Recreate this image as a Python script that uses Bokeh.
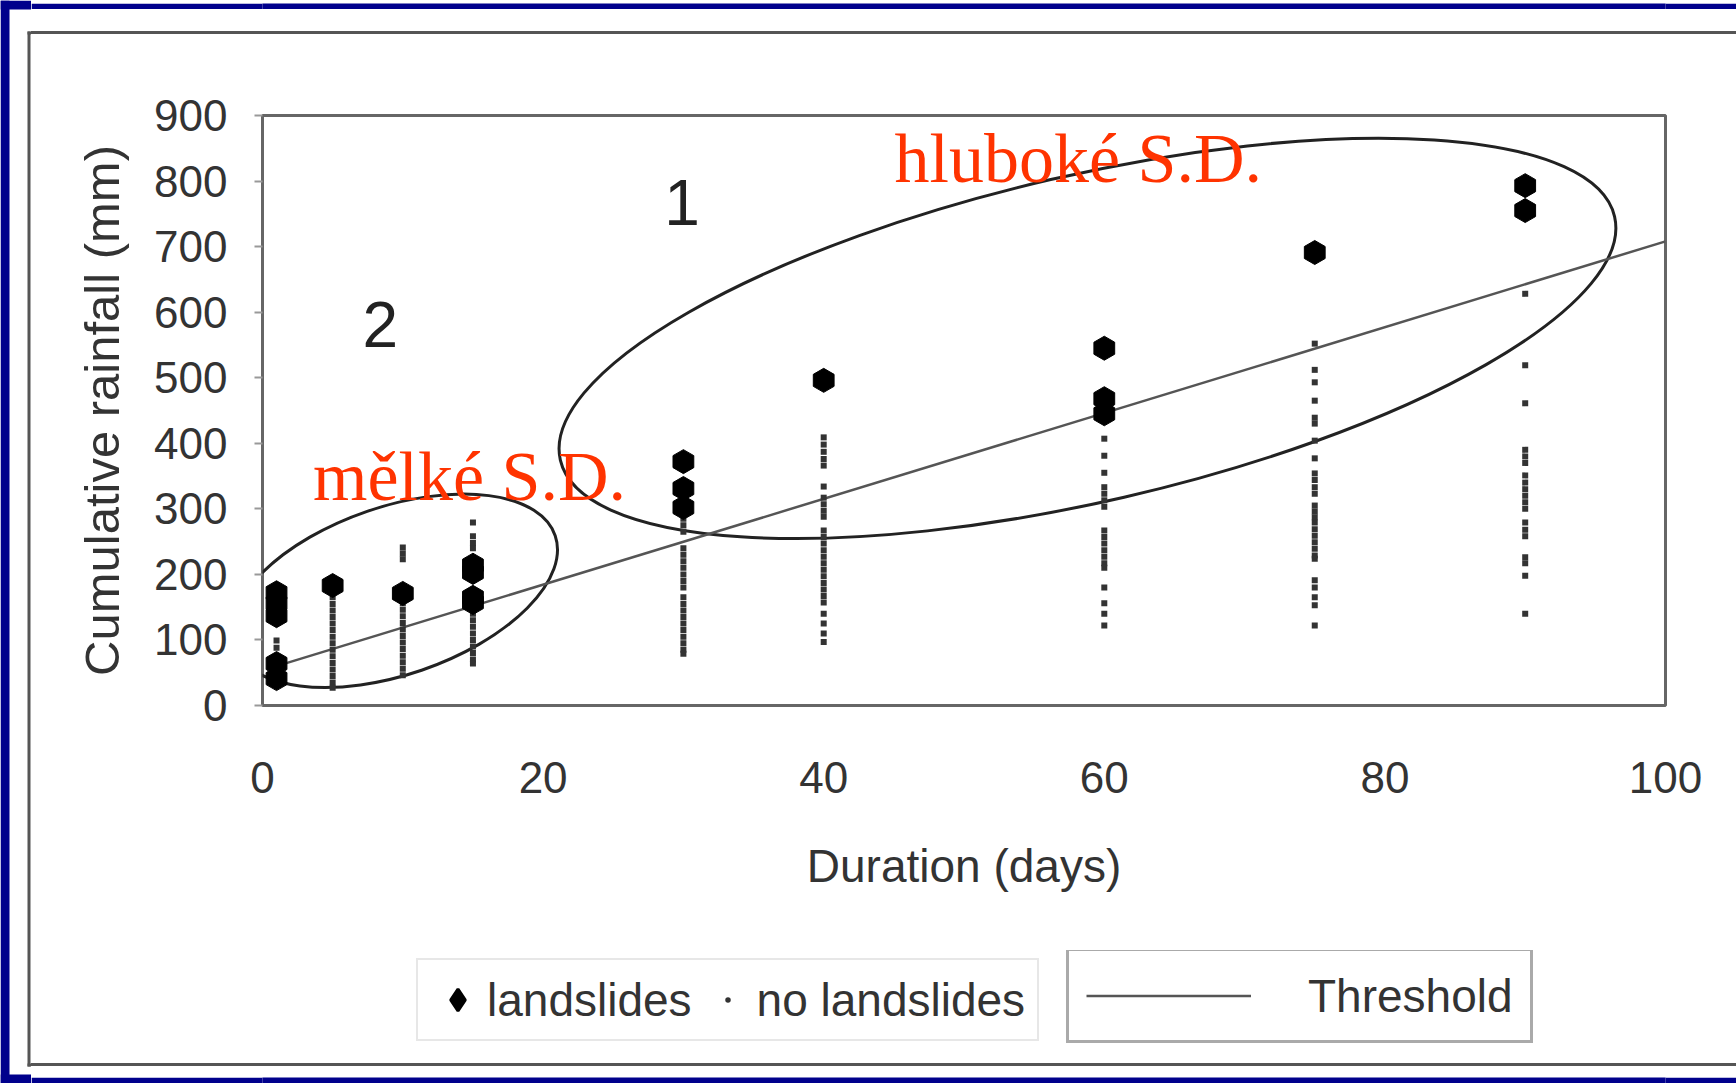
import math
from bokeh.plotting import figure
from bokeh.layouts import row, column
from bokeh.models import Legend, LegendItem, FixedTicker, Range1d, Spacer, Div
from bokeh.embed import file_html
from bokeh.resources import INLINE
from bokeh.core.properties import value

# ---------------- data ----------------
x_ticks = [0, 20, 40, 60, 80, 100]
y_ticks = [0, 100, 200, 300, 400, 500, 600, 700, 800, 900]

landslide_days = [1, 1, 1, 1, 1, 5, 10, 15, 15, 15, 15, 30, 30, 30, 40, 60, 60, 60, 75, 90, 90]
landslide_rain = [172, 156, 137, 64, 41, 183, 171, 214, 203, 165, 157, 372, 331, 302, 496,
                  545, 468, 445, 691, 793, 755]

nl_d1 = [99, 88]
nl_d5 = [165, 155, 145, 135, 125, 115, 105, 95, 85, 75, 65, 55, 45, 35, 27]
nl_d10 = [241, 232, 223, 156, 146, 136, 126, 116, 106, 96, 86, 76, 66, 56, 46]
nl_d15 = [279, 258, 248, 240, 150, 140, 130, 120, 110, 100, 90, 80, 70, 64]
nl_d30 = [285, 275, 265, 240, 230, 220, 210, 200, 190, 180, 165, 155, 145, 135, 125, 115,
          105, 95, 85, 79]
nl_d40 = [409, 398, 387, 376, 366, 334, 317, 307, 297, 288, 267, 257, 247, 237, 227, 217,
          207, 197, 187, 177, 167, 157, 140, 125, 110, 97]
nl_d60 = [407, 381, 355, 333, 323, 313, 303, 267, 257, 247, 237, 227, 217, 210, 180, 156,
          140, 122]
nl_d75 = [552, 512, 493, 465, 439, 430, 404, 377, 354, 344, 333, 323, 305, 296, 287, 279,
          269, 259, 249, 239, 229, 224, 191, 180, 165, 153, 122]
nl_d90 = [628, 519, 461, 390, 380, 370, 351, 340, 330, 320, 310, 300, 279, 268, 258, 226,
          217, 198, 140]
no_landslide_groups = {1: nl_d1, 5: nl_d5, 10: nl_d10, 15: nl_d15, 30: nl_d30,
                       40: nl_d40, 60: nl_d60, 75: nl_d75, 90: nl_d90}

threshold_days = [1, 100]
threshold_rain = [60, 708]

# hand-drawn group ellipses (centre in data units)
ellipse_days = [58.8, 9.4]
ellipse_rain = [560, 175]

nl_days = [d for d, vals in no_landslide_groups.items() for _ in vals]
nl_rain = [v for vals in no_landslide_groups.values() for v in vals]

FONT = "Liberation Sans"
BLUE = "#00008c"
FRAME = "#555555"
W = 1705


def bare(w, h, color="white"):
    """A bare figure without axes (used for slide border bands and the legend strip)."""
    f = figure(width=w, height=h, x_range=Range1d(0, 1), y_range=Range1d(0, 1),
               x_axis_location=None, y_axis_location=None, output_backend="svg",
               toolbar_location=None, min_border=0, outline_line_color=None,
               background_fill_color=color, border_fill_color=color)
    f.xgrid.visible = False
    f.ygrid.visible = False
    return f


def band(h, color):
    return Div(text="", width=W, height=h, margin=0,
               styles={"background-color": color, "overflow": "hidden"})


# ---- main chart ----
p = figure(frame_width=1403, frame_height=590,
           min_border_left=231, min_border_right=71, min_border_top=81, min_border_bottom=245,
           x_range=Range1d(0, 100), y_range=Range1d(0, 900),
           output_backend="svg", toolbar_location=None,
           background_fill_color="white", border_fill_color="white")
p.xgrid.visible = False
p.ygrid.visible = False
p.outline_line_color = "#666666"
p.outline_line_width = 3

p.xaxis.ticker = FixedTicker(ticks=x_ticks)
p.yaxis.ticker = FixedTicker(ticks=y_ticks)
p.xaxis.axis_label = "Duration (days)"
p.yaxis.axis_label = "Cumulative rainfall (mm)"
for ax in (p.xaxis[0], p.yaxis[0]):
    ax.axis_line_color = None
    ax.minor_tick_line_color = None
    ax.minor_tick_out = 0
    ax.minor_tick_in = 0
    ax.major_label_text_font = FONT
    ax.major_label_text_font_size = "44px"
    ax.major_label_text_color = "#333333"
    ax.axis_label_text_font = FONT
    ax.axis_label_text_font_style = "normal"
    ax.axis_label_text_color = "#333333"
p.xaxis.major_tick_line_color = None
p.xaxis.major_tick_out = 0
p.xaxis.major_tick_in = 0
p.xaxis.major_label_standoff = 56
p.xaxis.axis_label_standoff = 44
p.xaxis.axis_label_text_font_size = "46px"
p.yaxis.major_tick_out = 8
p.yaxis.major_tick_in = 0
p.yaxis.major_tick_line_color = "#999999"
p.yaxis.major_tick_line_width = 2
p.yaxis.major_label_standoff = 27
p.yaxis.axis_label_standoff = 22
p.yaxis.axis_label_text_font_size = "49px"

p.ellipse(x=ellipse_days, y=ellipse_rain, width=[1082, 340], height=[326, 168],
          angle=[0.227, 0.33], width_units="screen", height_units="screen",
          fill_color=None, line_color="#222222", line_width=3)
p.line(threshold_days, threshold_rain, line_color="#555555", line_width=2.5)
p.scatter(nl_days, nl_rain, marker="square", size=6, fill_color="#333333", line_color=None)
p.scatter(landslide_days, landslide_rain, marker="hex", size=24, angle=math.pi / 6,
          fill_color="black", line_color="black", line_width=1)

p.text(x=[45.05], y=[834], text=["hluboké S.D."], text_font=value("Liberation Serif"),
       text_font_size="70px", text_color="#ff3300", text_baseline="alphabetic",
       text_align="left")
p.text(x=[3.6], y=[349], text=["mělké S.D."], text_font=value("Liberation Serif"),
       text_font_size="70px", text_color="#ff3300", text_baseline="alphabetic",
       text_align="left")
p.text(x=[29.9, 8.4], y=[767, 581], text=["1", "2"], text_font=value(FONT),
       text_font_size="64px", text_color="#222222", text_baseline="middle",
       text_align="center")

# ---- legend strip under the chart (its frame lines up with the chart's frame) ----
pl = bare(W, 113)
r_ls_leg = pl.scatter(landslide_days, landslide_rain, marker="diamond", fill_color="black",
                      line_color="black", line_width=3, visible=False)
r_nl_leg = pl.scatter(nl_days, nl_rain, marker="dot", fill_color="#333333",
                      line_color="#333333", visible=False)
r_thr_leg = pl.line(threshold_days, threshold_rain, line_color="#555555", line_width=2.5,
                    visible=False)

leg1 = Legend(items=[LegendItem(label="landslides", renderers=[r_ls_leg]),
                     LegendItem(label="no landslides", renderers=[r_nl_leg])],
              orientation="horizontal", location=(154, 22), margin=0,
              glyph_width=55, glyph_height=55, padding=12, spacing=8, label_standoff=2,
              label_text_font=FONT, label_text_font_size="46px", label_text_color="#333333",
              border_line_color="#d0d0d0", border_line_width=2,
              background_fill_color="white", background_fill_alpha=1.0)
leg2 = Legend(items=[LegendItem(label="Threshold", renderers=[r_thr_leg])],
              orientation="horizontal", location=(804, 20), margin=0,
              glyph_width=165, glyph_height=55, padding=17, label_standoff=57,
              label_text_font=FONT, label_text_font_size="46px", label_text_color="#333333",
              label_text_baseline="bottom",
              border_line_color="#555555", border_line_width=3,
              background_fill_color="white", background_fill_alpha=1.0)
pl.add_layout(leg1)
pl.add_layout(leg2)

# ---- slide border pieces ----
ls = figure(width=31, height=1083, x_range=Range1d(0, 31), y_range=Range1d(1083, 0),
            x_axis_location=None, y_axis_location=None, output_backend="svg",
            toolbar_location=None, min_border=0, outline_line_color=None,
            background_fill_color="white", border_fill_color="white")
ls.xgrid.visible = False
ls.ygrid.visible = False
ls.quad(left=[0], right=[9], top=[0], bottom=[1083], fill_color=BLUE, line_color=None)
ls.quad(left=[0], right=[31], top=[0], bottom=[9], fill_color=BLUE, line_color=None)
ls.quad(left=[0], right=[31], top=[1074], bottom=[1083], fill_color=BLUE, line_color=None)
ls.quad(left=[27], right=[30], top=[31], bottom=[1066], fill_color=FRAME, line_color=None)
ls.quad(left=[27], right=[31], top=[31], bottom=[34], fill_color=FRAME, line_color=None)
ls.quad(left=[27], right=[31], top=[1063], bottom=[1066], fill_color=FRAME, line_color=None)

right_col = column(bare(W, 9, BLUE), Spacer(width=W, height=22), band(3, FRAME),
                   p, pl,
                   band(3, FRAME), Spacer(width=W, height=8), bare(W, 9, BLUE),
                   spacing=0)
page = row(ls, right_col, spacing=0)

open("out.html", "w").write(file_html(page, INLINE))
